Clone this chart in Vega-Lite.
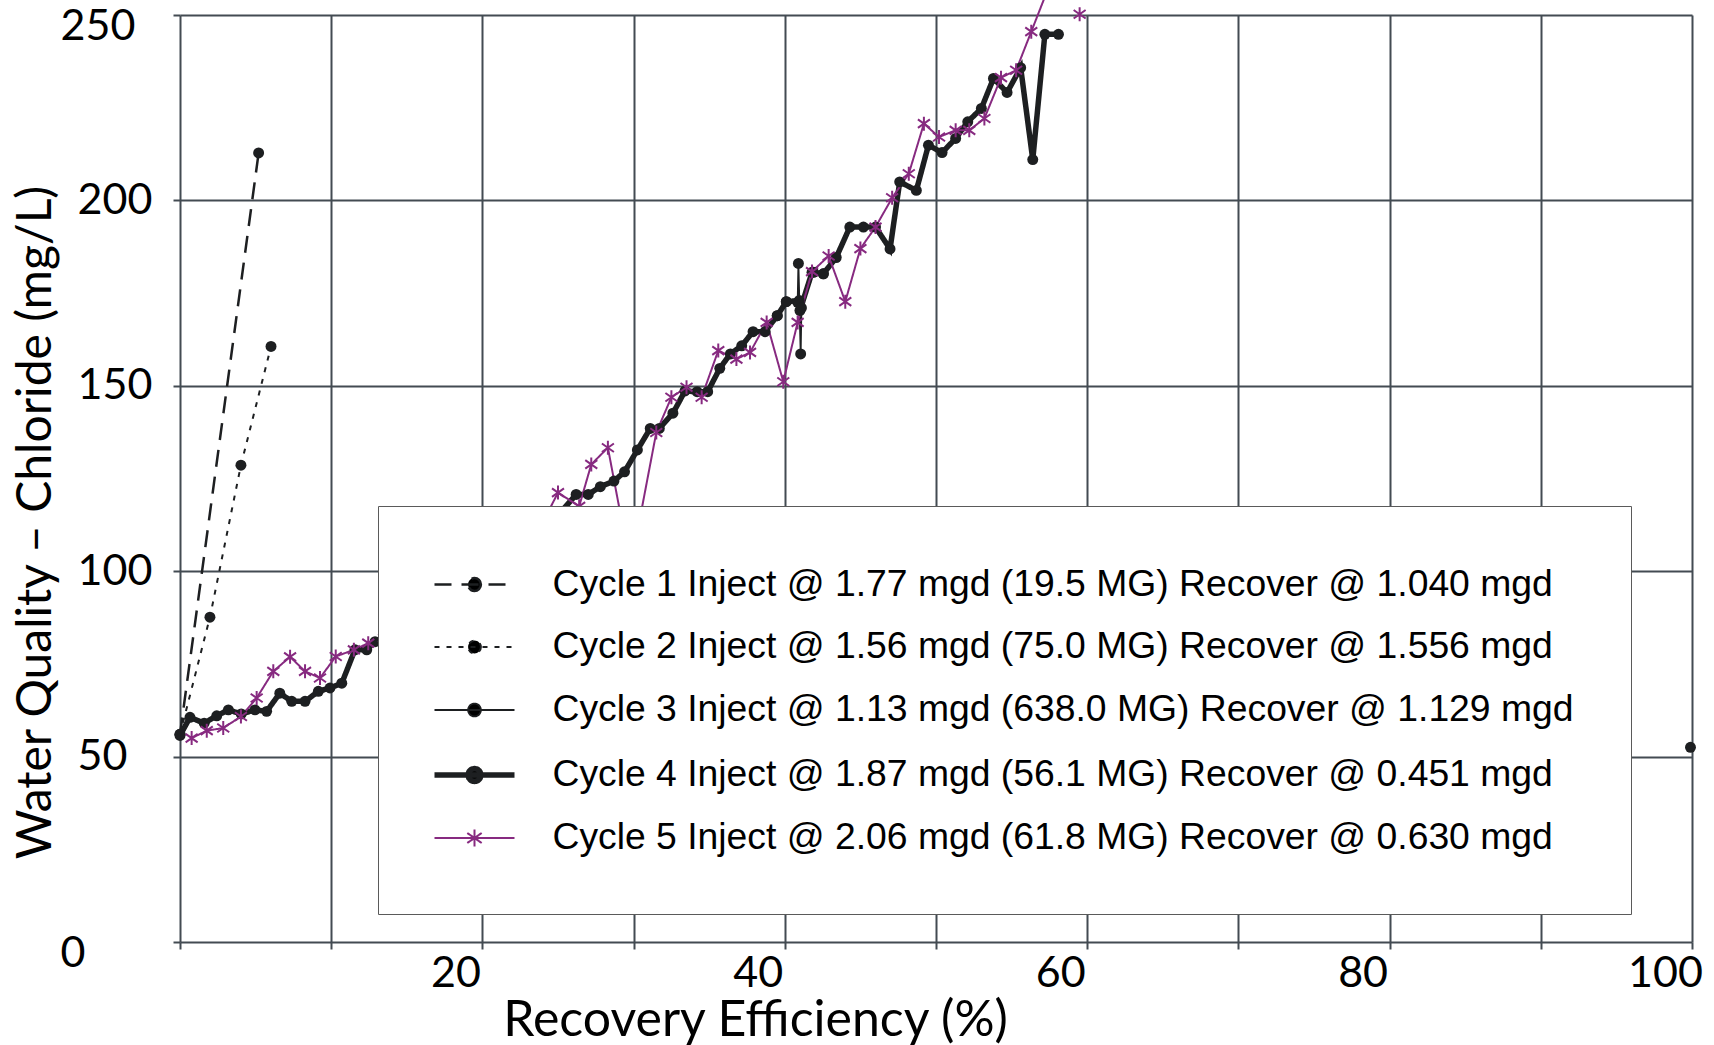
{
  "$schema": "https://vega.github.io/schema/vega-lite/v6.json",
  "autosize": "none",
  "width": 1512,
  "height": 927,
  "padding": {"left": 180, "top": 15, "right": 22, "bottom": 103},
  "background": "white",
  "config": {"view": {"stroke": null}},
  "data": {"values": [
    {"cycle":4,"seg":"a","x":0,"y":55.7},{"cycle":4,"seg":"a","x":0.66,"y":60.6},{"cycle":4,"seg":"a","x":1.6,"y":59},{"cycle":4,"seg":"a","x":2.43,"y":61},{"cycle":4,"seg":"a","x":3.2,"y":62.6},{"cycle":4,"seg":"a","x":4.05,"y":61.5},{"cycle":4,"seg":"a","x":4.96,"y":62.6},{"cycle":4,"seg":"a","x":5.73,"y":62.2},{"cycle":4,"seg":"a","x":6.6,"y":67.1},{"cycle":4,"seg":"a","x":7.39,"y":64.9},{"cycle":4,"seg":"a","x":8.27,"y":64.9},{"cycle":4,"seg":"a","x":9.15,"y":67.6},{"cycle":4,"seg":"a","x":9.92,"y":68.5},{"cycle":4,"seg":"a","x":10.7,"y":69.8},{"cycle":4,"seg":"a","x":11.57,"y":78.8},{"cycle":4,"seg":"a","x":12.35,"y":78.8},{"cycle":4,"seg":"a","x":12.9,"y":81},
    {"cycle":4,"seg":"a","x":13.7,"y":82.5},{"cycle":4,"seg":"a","x":14.5,"y":84},{"cycle":4,"seg":"a","x":15.3,"y":87},{"cycle":4,"seg":"a","x":16.1,"y":88},{"cycle":4,"seg":"a","x":17.0,"y":91},{"cycle":4,"seg":"a","x":17.8,"y":93},{"cycle":4,"seg":"a","x":18.6,"y":96},{"cycle":4,"seg":"a","x":19.4,"y":97},{"cycle":4,"seg":"a","x":20.3,"y":101},{"cycle":4,"seg":"a","x":21.1,"y":103},{"cycle":4,"seg":"a","x":21.9,"y":106},{"cycle":4,"seg":"a","x":22.7,"y":108},{"cycle":4,"seg":"a","x":23.6,"y":111},{"cycle":4,"seg":"a","x":24.4,"y":113},{"cycle":4,"seg":"a","x":25.2,"y":116},
    {"cycle":4,"seg":"a","x":26.2,"y":120.7},{"cycle":4,"seg":"a","x":27.0,"y":120.7},{"cycle":4,"seg":"a","x":27.8,"y":122.8},{"cycle":4,"seg":"a","x":28.7,"y":124.3},{"cycle":4,"seg":"a","x":29.4,"y":126.8},{"cycle":4,"seg":"a","x":30.25,"y":132.7},{"cycle":4,"seg":"a","x":31.1,"y":138.5},{"cycle":4,"seg":"a","x":31.7,"y":138.5},{"cycle":4,"seg":"a","x":32.6,"y":142.6},{"cycle":4,"seg":"a","x":33.4,"y":148.6},{"cycle":4,"seg":"a","x":34.2,"y":148.4},{"cycle":4,"seg":"a","x":34.9,"y":148.4},{"cycle":4,"seg":"a","x":35.7,"y":154.7},{"cycle":4,"seg":"a","x":36.4,"y":158.6},{"cycle":4,"seg":"a","x":37.15,"y":160.8},{"cycle":4,"seg":"a","x":37.9,"y":164.6},{"cycle":4,"seg":"a","x":38.7,"y":164.6},{"cycle":4,"seg":"a","x":39.5,"y":168.9},{"cycle":4,"seg":"a","x":40.1,"y":172.7},{"cycle":4,"seg":"a","x":40.95,"y":173},{"cycle":4,"seg":"a","x":41.0,"y":170.3},{"cycle":4,"seg":"a","x":41.8,"y":180.6},{"cycle":4,"seg":"a","x":42.55,"y":180.2},{"cycle":4,"seg":"a","x":43.4,"y":184.6},{"cycle":4,"seg":"a","x":44.3,"y":192.8},{"cycle":4,"seg":"a","x":45.2,"y":192.8},{"cycle":4,"seg":"a","x":46.0,"y":192.8},{"cycle":4,"seg":"a","x":46.96,"y":186.9},{"cycle":4,"seg":"a","x":47.6,"y":205.0},{"cycle":4,"seg":"a","x":48.7,"y":202.7},{"cycle":4,"seg":"a","x":49.5,"y":214.9},{"cycle":4,"seg":"a","x":50.4,"y":212.9},{"cycle":4,"seg":"a","x":51.3,"y":216.7},{"cycle":4,"seg":"a","x":52.1,"y":221.2},{"cycle":4,"seg":"a","x":53.0,"y":224.8},{"cycle":4,"seg":"a","x":53.8,"y":232.9},{"cycle":4,"seg":"a","x":54.7,"y":229.1},{"cycle":4,"seg":"a","x":55.6,"y":235.8},{"cycle":4,"seg":"a","x":56.4,"y":211.0},{"cycle":4,"seg":"a","x":57.2,"y":244.8},{"cycle":4,"seg":"a","x":58.1,"y":244.8},
    {"cycle":3,"seg":"a","x":39.5,"y":168.9},{"cycle":3,"seg":"a","x":40.1,"y":172.7},{"cycle":3,"seg":"a","x":40.85,"y":172.5},{"cycle":3,"seg":"a","x":40.9,"y":183},{"cycle":3,"seg":"a","x":41.05,"y":158.6},{"cycle":3,"seg":"a","x":41.1,"y":171},{"cycle":3,"seg":"a","x":41.9,"y":180.6},{"cycle":3,"seg":"a","x":42.55,"y":180.2},
    {"cycle":3,"seg":"b","x":99.9,"y":52.5},
    {"cycle":1,"seg":"a","x":0,"y":56},{"cycle":1,"seg":"a","x":5.2,"y":212.8},
    {"cycle":2,"seg":"a","x":0,"y":56},{"cycle":2,"seg":"a","x":1.98,"y":87.6},{"cycle":2,"seg":"a","x":4.03,"y":128.6},{"cycle":2,"seg":"a","x":6.02,"y":160.6},
    {"cycle":5,"seg":"a","x":0.77,"y":55},{"cycle":5,"seg":"a","x":1.77,"y":57},{"cycle":5,"seg":"a","x":2.86,"y":57.7},{"cycle":5,"seg":"a","x":4.03,"y":60.8},{"cycle":5,"seg":"a","x":5.07,"y":65.8},{"cycle":5,"seg":"a","x":6.17,"y":73},{"cycle":5,"seg":"a","x":7.28,"y":76.9},{"cycle":5,"seg":"a","x":8.27,"y":73},{"cycle":5,"seg":"a","x":9.26,"y":71.2},{"cycle":5,"seg":"a","x":10.3,"y":77},{"cycle":5,"seg":"a","x":11.5,"y":78.8},{"cycle":5,"seg":"a","x":12.45,"y":80.6},
    {"cycle":5,"seg":"a","x":13.5,"y":82},{"cycle":5,"seg":"a","x":14.6,"y":84},{"cycle":5,"seg":"a","x":15.8,"y":87},{"cycle":5,"seg":"a","x":17.0,"y":89},{"cycle":5,"seg":"a","x":18.2,"y":93},{"cycle":5,"seg":"a","x":19.4,"y":97},{"cycle":5,"seg":"a","x":20.6,"y":101},{"cycle":5,"seg":"a","x":21.8,"y":105},{"cycle":5,"seg":"a","x":23.0,"y":110},{"cycle":5,"seg":"a","x":24.1,"y":114},
    {"cycle":5,"seg":"a","x":25.0,"y":121.2},{"cycle":5,"seg":"a","x":26.4,"y":117.5},{"cycle":5,"seg":"a","x":27.2,"y":128.8},{"cycle":5,"seg":"a","x":28.3,"y":133.3},{"cycle":5,"seg":"a","x":29.8,"y":101},{"cycle":5,"seg":"a","x":31.5,"y":137.4},{"cycle":5,"seg":"a","x":32.5,"y":146.9},{"cycle":5,"seg":"a","x":33.5,"y":149.6},{"cycle":5,"seg":"a","x":34.5,"y":146.9},{"cycle":5,"seg":"a","x":35.6,"y":159.5},{"cycle":5,"seg":"a","x":36.8,"y":157.2},{"cycle":5,"seg":"a","x":37.7,"y":159.0},{"cycle":5,"seg":"a","x":38.8,"y":167.1},{"cycle":5,"seg":"a","x":39.9,"y":151.1},{"cycle":5,"seg":"a","x":40.85,"y":167.1},{"cycle":5,"seg":"a","x":41.8,"y":180.8},{"cycle":5,"seg":"a","x":42.9,"y":185.0},{"cycle":5,"seg":"a","x":44.0,"y":172.7},{"cycle":5,"seg":"a","x":45.0,"y":187.0},{"cycle":5,"seg":"a","x":46.0,"y":192.8},{"cycle":5,"seg":"a","x":47.1,"y":200.7},{"cycle":5,"seg":"a","x":48.2,"y":207.2},{"cycle":5,"seg":"a","x":49.2,"y":220.7},{"cycle":5,"seg":"a","x":50.2,"y":217.1},{"cycle":5,"seg":"a","x":51.3,"y":218.9},{"cycle":5,"seg":"a","x":52.2,"y":218.9},{"cycle":5,"seg":"a","x":53.2,"y":222.1},{"cycle":5,"seg":"a","x":54.3,"y":233.1},{"cycle":5,"seg":"a","x":55.3,"y":235.1},{"cycle":5,"seg":"a","x":56.3,"y":245.5},{"cycle":5,"seg":"a","x":57.5,"y":258},
    {"cycle":5,"seg":"b","x":59.5,"y":250.2}
  ]},
  "encoding": {
    "x": {"field": "x", "type": "quantitative",
      "scale": {"domain": [0, 100], "nice": false, "zero": false},
      "axis": {"values": [0,10,20,30,40,50,60,70,80,90,100],
        "labelExpr": "datum.value > 0 && datum.value % 20 === 0 ? datum.label : ''",
        "grid": true, "gridColor": "#434b52", "gridWidth": 2, "gridOpacity": 1,
        "domain": false, "ticks": true, "tickSize": 7, "tickColor": "#434b52", "tickWidth": 2,
        "labelFont": "Lato", "labelFontSize": 43, "labelColor": "#000000",
        "labelOffset": -27, "labelBaseline": "middle", "labelPadding": 24,
        "labelFlush": false, "labelOverlap": false, "labelBound": false,
        "title": "Recovery Efficiency (%)", "titleFont": "Lato", "titleFontSize": 50,
        "titleFontWeight": "normal", "titleColor": "#000000",
        "titleX": 575, "titleY": 93, "titleBaseline": "alphabetic", "titleAlign": "center"}},
    "y": {"field": "y", "type": "quantitative",
      "scale": {"domain": [0, 250], "nice": false, "zero": true},
      "axis": {"values": [0,50,100,150,200,250],
        "grid": true, "gridColor": "#434b52", "gridWidth": 2, "gridOpacity": 1,
        "domain": false, "ticks": true, "tickSize": 7, "tickColor": "#434b52", "tickWidth": 2,
        "labelFont": "Lato", "labelFontSize": 43, "labelColor": "#000000",
        "labelAlign": "left", "labelBaseline": "middle",
        "labelPadding": {"condition": {"test": "datum.value === 250 || datum.value === 0", "value": 113}, "value": 96},
        "labelOffset": {"condition": {"test": "datum.value === 250 || datum.value === 0", "value": 11}, "value": 0},
        "labelFlush": false, "labelOverlap": false, "labelBound": false,
        "title": "Water Quality – Chloride (mg/L)", "titleFont": "Lato", "titleFontSize": 48,
        "titleFontWeight": "normal", "titleColor": "#000000",
        "titleX": -130, "titleY": 507, "titleBaseline": "alphabetic", "titleAlign": "center", "titleAngle": -90}}
  },
  "layer": [
    {
      "mark": {"type": "line", "clip": false},
      "encoding": {
        "detail": {"field": "seg", "type": "nominal"},
        "color": {"field": "cycle", "type": "nominal",
          "scale": {"domain": [1,2,3,4,5], "range": ["#1d1f21","#1d1f21","#1d1f21","#1d1f21","#872a80"]},
          "legend": {
            "orient": "none", "legendX": 198, "legendY": 491,
            "title": null, "fillColor": "white", "strokeColor": "#5a5a5a",
            "padding": 57, "rowPadding": 23, "symbolSize": 1600, "symbolStrokeWidth": 2.5,
            "symbolOffset": 16.5,
            "labelOffset": 55, "labelFont": "Liberation Sans", "labelFontSize": 37.3,
            "labelColor": "#000000", "labelLimit": 3000,
            "labelExpr": "['', 'Cycle 1 Inject @ 1.77 mgd (19.5 MG) Recover @ 1.040 mgd', 'Cycle 2 Inject @ 1.56 mgd (75.0 MG) Recover @ 1.556 mgd', 'Cycle 3 Inject @ 1.13 mgd (638.0 MG) Recover @ 1.129 mgd', 'Cycle 4 Inject @ 1.87 mgd (56.1 MG) Recover @ 0.451 mgd', 'Cycle 5 Inject @ 2.06 mgd (61.8 MG) Recover @ 0.630 mgd'][datum.value]",
            "encode": {"symbols": {"update": {
              "shape": {"signal": "datum.value == 5 ? 'M-2,0L2,0M0,-0.42L0,0.42M-0.36,-0.25L0.36,0.25M-0.36,0.25L0.36,-0.25' : 'M-2,0L2,0M0.32,0A0.32,0.32,0,1,1,-0.32,0A0.32,0.32,0,1,1,0.32,0Z'"},
              "fill": {"signal": "datum.value == 5 ? 'transparent' : '#000000'"}
            }}}
          }},
        "strokeDash": {"field": "cycle", "type": "nominal",
          "scale": {"domain": [1,2,3,4,5], "range": [[17,10],[5,7],[1,0],[1,0],[1,0]]},
          "legend": null},
        "strokeWidth": {"field": "cycle", "type": "nominal",
          "scale": {"type": "ordinal", "domain": [1,2,3,4,5], "range": [2.5, 2, 1.8, 5.5, 2]},
          "legend": null}
      }
    },
    {
      "transform": [{"filter": "datum.cycle != 5"}],
      "mark": {"type": "point", "shape": "circle", "filled": true, "color": "#1d1f21", "size": 120, "opacity": 1, "clip": false}
    },
    {
      "transform": [{"filter": "datum.cycle == 5"}],
      "mark": {"type": "point", "shape": "M0,-1.4L0,1.4M-1.2,-0.85L1.2,0.85M-1.2,0.85L1.2,-0.85", "filled": false, "color": "#872a80", "strokeWidth": 2, "size": 100, "opacity": 1, "clip": false}
    }
  ]
}
